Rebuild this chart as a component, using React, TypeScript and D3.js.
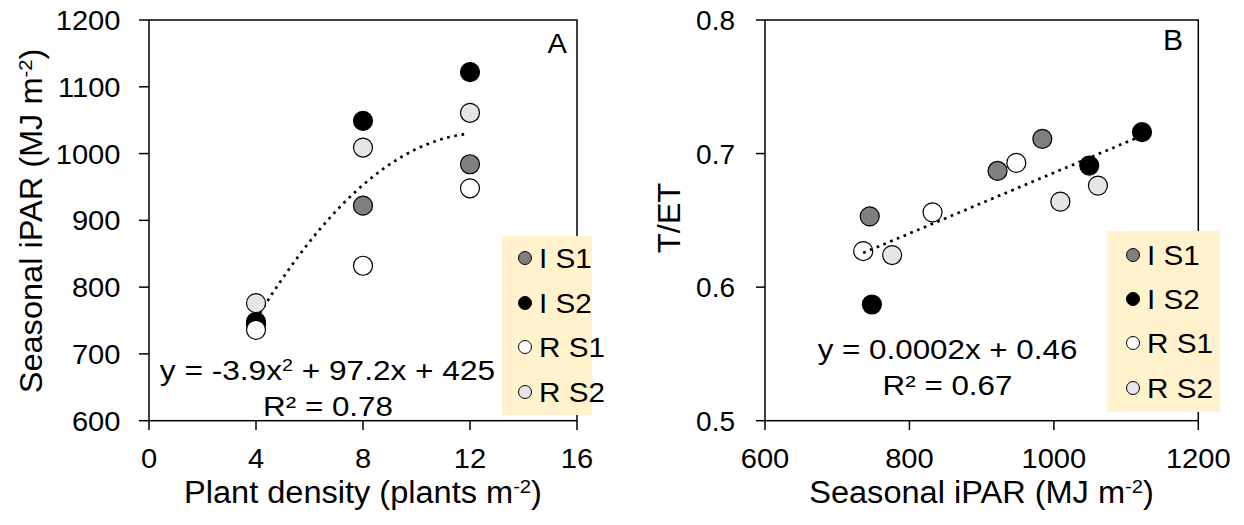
import React from "react";
import * as d3 from "d3";

// ---------- data ----------
const densities = [4, 8, 12];
const iparIS1 = [745, 922, 984];
const iparIS2 = [748, 1049, 1122];
const iparRS1 = [736, 832, 948];
const iparRS2 = [776, 1009, 1061];

const tetIS1 = [0.653, 0.687, 0.711];
const tetIS2 = [0.587, 0.691, 0.716];
const tetRS1 = [0.627, 0.656, 0.693];
const tetRS2 = [0.624, 0.664, 0.676];

const seriesNames = ["I S1", "I S2", "R S1", "R S2"];
const seriesFills = ["#7f7f7f", "#000000", "#ffffff", "#e7e6e6"];

const xTicksA = [0, 4, 8, 12, 16];
const yTicksA = [600, 700, 800, 900, 1000, 1100, 1200];
const xTicksB = [600, 800, 1000, 1200];
const yTicksB = [0.5, 0.6, 0.7, 0.8];

const quadCoefA = [-3.9, 97.2, 425]; // a x^2 + b x + c
const quadRangeA = [4, 11.8];

const FONT = "'Liberation Sans', Arial, sans-serif";

const iparSeries = [iparIS1, iparIS2, iparRS1, iparRS2];
const tetSeries = [tetIS1, tetIS2, tetRS1, tetRS2];

function T({ x, y, size = 28, sx = 1, anchor = "start", rotate = 0, dy = undefined, children }) {
  const tr = `translate(${x},${y})` + (rotate ? ` rotate(${rotate})` : "") + ` scale(${sx},1)`;
  return (
    <text transform={tr} dy={dy} textAnchor={anchor} fontSize={size} fontFamily={FONT} fill="#000">
      {children}
    </text>
  );
}

function Legend({ x, y, w, h, rowY, markerX, textX }) {
  return (
    <g>
      <rect x={x} y={y} width={w} height={h} fill="#fff2cc" />
      {seriesNames.map((n, i) => (
        <g key={n}>
          <circle cx={markerX} cy={rowY[i]} r={6.5} fill={seriesFills[i]} stroke="#000" strokeWidth={1} />
          <T x={textX} y={rowY[i]} dy="0.36em" size={28} sx={1.06}>
            {n}
          </T>
        </g>
      ))}
    </g>
  );
}

function Frame({ x0, x1, y0, y1 }) {
  return (
    <rect x={x0} y={y0} width={x1 - x0} height={y1 - y0} fill="none" stroke="#000" strokeWidth={1.5} />
  );
}

function Sup({ text, tail }) {
  return (
    <>
      <tspan fontSize="0.62em" dy="-0.5em">{text}</tspan>
      <tspan dy="0.31em">{tail}</tspan>
    </>
  );
}

export default function App() {
  // Panel A
  const ax = d3.scaleLinear().domain([0, 16]).range([149, 577]);
  const ay = d3.scaleLinear().domain([600, 1200]).range([420.7, 20]);
  // Panel B
  const bx = d3.scaleLinear().domain([600, 1200]).range([765, 1198.3]);
  const by = d3.scaleLinear().domain([0.5, 0.8]).range([420.7, 20]);

  const quad = (v) => quadCoefA[0] * v * v + quadCoefA[1] * v + quadCoefA[2];
  const quadPts = d3.range(quadRangeA[0], quadRangeA[1] + 1e-9, 0.05).map((v) => [v, quad(v)]);
  const lineA = d3.line().x((d) => ax(d[0])).y((d) => ay(d[1]));

  // linear least squares for panel B
  const allX = iparSeries.flat();
  const allY = tetSeries.flat();
  const mx = d3.mean(allX);
  const my = d3.mean(allY);
  let sxy = 0, sxx = 0;
  allX.forEach((v, i) => {
    sxy += (v - mx) * (allY[i] - my);
    sxx += (v - mx) * (v - mx);
  });
  const slope = sxy / sxx;
  const intercept = my - slope * mx;
  const [minX, maxX] = d3.extent(allX);
  const lineB = d3.line().x((d) => bx(d[0])).y((d) => by(d[1]));
  const linPts = [[minX, intercept + slope * minX], [maxX, intercept + slope * maxX]];

  const dotted = { fill: "none", stroke: "#000", strokeWidth: 2.7, strokeDasharray: "2.7 4.6" };

  return (
    <svg width={1244} height={525} style={{ position: "absolute", left: 0, top: 0, background: "#fff" }}>
      {/* ===== Panel A ===== */}
      <g>
        {yTicksA.map((t) => (
          <g key={t}>
            <line x1={139} x2={149} y1={ay(t)} y2={ay(t)} stroke="#000" strokeWidth={1.5} />
            <T x={120.5} y={ay(t)} dy="0.36em" anchor="end" size={28} sx={1.04}>{t}</T>
          </g>
        ))}
        {xTicksA.map((t) => (
          <g key={t}>
            <line x1={ax(t)} x2={ax(t)} y1={420.7} y2={430} stroke="#000" strokeWidth={1.5} />
            <T x={ax(t)} y={468} anchor="middle" size={28} sx={1.04}>{t}</T>
          </g>
        ))}
        <Frame x0={149} x1={577} y0={20} y1={420.7} />
        <path d={lineA(quadPts)} {...dotted} />
        {iparSeries.map((s, si) =>
          s.map((v, i) => (
            <circle key={si + "-" + i} cx={ax(densities[i])} cy={ay(v)} r={9.5} fill={seriesFills[si]} stroke="#000" strokeWidth={1.2} />
          ))
        )}
        <T x={567} y={53} anchor="end" size={28} sx={1.04}>A</T>
        <Legend x={502} y={236} w={90} h={179} rowY={[258, 303, 347, 392]} markerX={525} textX={539} />
        <T x={327.5} y={380} anchor="middle" size={28} sx={1.13}>
          y = -3.9x<Sup text="2" tail=" + 97.2x + 425" />
        </T>
        <T x={328} y={416} anchor="middle" size={28} sx={1.12}>R² = 0.78</T>
        <T x={363} y={503} anchor="middle" size={31} sx={1.05}>
          Plant density (plants m<Sup text="-2" tail=")" />
        </T>
        <T x={41.5} y={221} anchor="middle" size={31} sx={1.05} rotate={-90}>
          Seasonal iPAR (MJ m<Sup text="-2" tail=")" />
        </T>
      </g>

      {/* ===== Panel B ===== */}
      <g>
        {yTicksB.map((t) => (
          <g key={t}>
            <line x1={756} x2={765} y1={by(t)} y2={by(t)} stroke="#000" strokeWidth={1.5} />
            <T x={735} y={by(t)} dy="0.36em" anchor="end" size={28} sx={1.0}>{d3.format(".1f")(t)}</T>
          </g>
        ))}
        {xTicksB.map((t) => (
          <g key={t}>
            <line x1={bx(t)} x2={bx(t)} y1={420.7} y2={430} stroke="#000" strokeWidth={1.5} />
            <T x={bx(t)} y={468} anchor="middle" size={28} sx={1.04}>{t}</T>
          </g>
        ))}
        <Frame x0={765} x1={1198.3} y0={20} y1={420.7} />
        {tetSeries.map((s, si) =>
          s.map((v, i) => (
            <circle key={si + "-" + i} cx={bx(iparSeries[si][i])} cy={by(v)} r={9.5} fill={seriesFills[si]} stroke="#000" strokeWidth={1.2} />
          ))
        )}
        <path d={lineB(linPts)} {...dotted} />
        <T x={1183} y={50} anchor="end" size={29} sx={1.04}>B</T>
        <Legend x={1107} y={231} w={113} h={181} rowY={[255, 299, 343, 388]} markerX={1133} textX={1147} />
        <T x={947.5} y={359} anchor="middle" size={28} sx={1.12}>y = 0.0002x + 0.46</T>
        <T x={947.5} y={395} anchor="middle" size={28} sx={1.12}>R² = 0.67</T>
        <T x={981.5} y={503} anchor="middle" size={31} sx={1.05}>
          Seasonal iPAR (MJ m<Sup text="-2" tail=")" />
        </T>
        <T x={680} y={218} anchor="middle" size={31} sx={1.05} rotate={-90}>T/ET</T>
      </g>
    </svg>
  );
}
